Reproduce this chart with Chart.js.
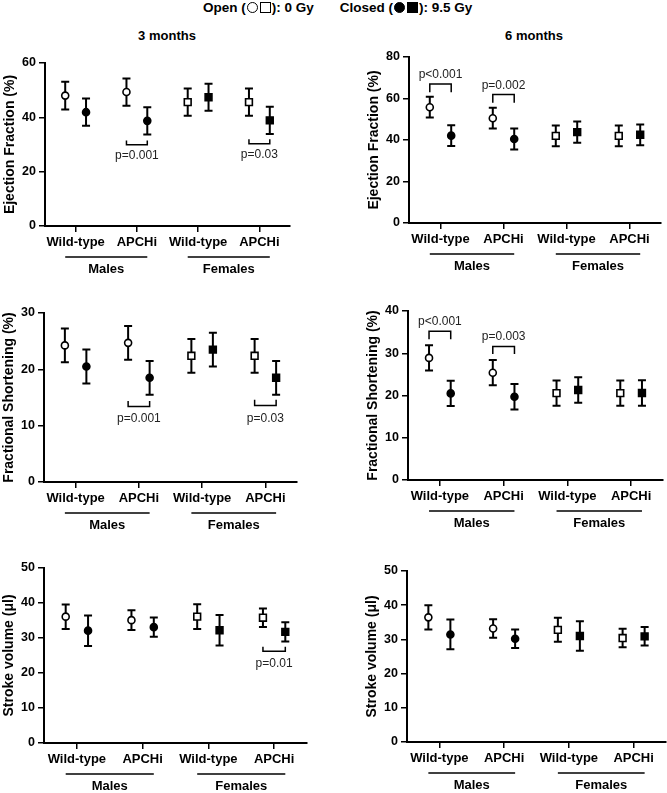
<!DOCTYPE html>
<html>
<head>
<meta charset="utf-8">
<script src="https://cdn.jsdelivr.net/npm/chart.js@4.4.0/dist/chart.umd.min.js"></script>
<style>
    html, body { margin: 0; padding: 0; background: #fff; overflow: hidden; }
    body { font-family: "Liberation Sans", Arial, sans-serif; color: #000; }
    #page { position: relative; width: 667px; height: 793px; }
    canvas { position: absolute; }
    .head { position: absolute; font-weight: bold; font-size: 13px; white-space: nowrap; transform: translate(-50%, -50%); }
    #legend { position: absolute; left: 203px; top: 0; font-weight: bold; font-size: 13.5px; white-space: nowrap; line-height: 15px; }
    .mk { display: inline-block; width: 9px; height: 9px; border: 1.6px solid #000; vertical-align: -1px; margin: 0 1px; }
    .mk.c { border-radius: 50%; }
    .mk.f { background: #000; }
</style>
</head>
<body>
<div id="page">
    <div id="legend">Open (<span class="mk c"></span><span class="mk"></span>): 0 Gy<span style="display:inline-block;width:26px"></span>Closed (<span class="mk c f"></span><span class="mk f"></span>): 9.5 Gy</div>
    <div class="head" style="left:167px;top:35px">3 months</div>
    <div class="head" style="left:534px;top:35px">6 months</div>
    <canvas id="ef3"></canvas>
    <canvas id="ef6"></canvas>
    <canvas id="fs3"></canvas>
    <canvas id="fs6"></canvas>
    <canvas id="sv3"></canvas>
    <canvas id="sv6"></canvas>
</div>
<script>
// categories
const groupLabels = ['Wild-type', 'APCHi', 'Wild-type', 'APCHi'];
const sexLabels = ['Males', 'Females'];
const pairOffset = 0.17; // open / closed sit either side of the tick

// Ejection fraction, 3 months
const ef3Open = [48.0, 49.3, 45.6, 45.6];
const ef3OpenSd = [5.1, 5.0, 5.0, 5.0];
const ef3Closed = [41.9, 38.7, 47.4, 38.9];
const ef3ClosedSd = [5.0, 5.0, 5.0, 5.0];
const ef3Brackets = [[2, 29.9, 31.5, 'p=0.001', 25.8], [4, 30.3, 31.9, 'p=0.03', 26.3]];

// Ejection fraction, 6 months
const ef6Open = [55.8, 50.5, 42.0, 42.0];
const ef6OpenSd = [5.0, 5.0, 5.0, 5.0];
const ef6Closed = [42.1, 40.5, 43.8, 42.5];
const ef6ClosedSd = [5.0, 5.1, 5.1, 5.0];
const ef6Brackets = [[1, 67.0, 63.0, 'p<0.001', 71.5], [2, 61.9, 58.0, 'p=0.002', 66.2]];

// Fractional shortening, 3 months
const fs3Open = [24.25, 24.7, 22.4, 22.4];
const fs3OpenSd = [3.0, 3.0, 3.0, 3.0];
const fs3Closed = [20.5, 18.5, 23.5, 18.5];
const fs3ClosedSd = [3.0, 3.0, 3.0, 3.0];
const fs3Brackets = [[2, 13.4, 14.4, 'p=0.001', 11.2], [4, 13.6, 14.6, 'p=0.03', 11.2]];

// Fractional shortening, 6 months
const fs6Open = [28.9, 25.4, 20.55, 20.55];
const fs6OpenSd = [3.0, 3.0, 3.0, 3.0];
const fs6Closed = [20.5, 19.7, 21.3, 20.6];
const fs6ClosedSd = [3.0, 3.0, 3.0, 3.0];
const fs6Brackets = [[1, 35.2, 33.3, 'p<0.001', 37.5], [2, 31.6, 29.8, 'p=0.003', 34.0]];

// Stroke volume, 3 months
const sv3Open = [36.1, 35.1, 36.1, 35.8];
const sv3OpenSd = [3.5, 2.8, 3.55, 2.65];
const sv3Closed = [32.1, 33.1, 32.2, 31.75];
const sv3ClosedSd = [4.35, 2.75, 4.35, 2.75];
const sv3Brackets = [[4, 26.2, 27.5, 'p=0.01', 22.7]];

// Stroke volume, 6 months
const sv6Open = [36.45, 33.2, 32.8, 30.4];
const sv6OpenSd = [3.55, 2.7, 3.5, 2.7];
const sv6Closed = [31.45, 30.2, 31.0, 30.9];
const sv6ClosedSd = [4.35, 2.7, 4.3, 2.7];
const sv6Brackets = [];

Chart.defaults.font.family = "'Liberation Sans', Arial, sans-serif";
Chart.defaults.color = '#000';

// error bars under the markers, brackets + group lines on top
const extrasPlugin = {
    id: 'extras',
    beforeDatasetsDraw(chart) {
        const ctx = chart.ctx;
        const yScale = chart.scales.y;
        chart.data.datasets.forEach((ds, di) => {
            const meta = chart.getDatasetMeta(di);
            meta.data.forEach((pt, i) => {
                const v = ds.data[i].y;
                const e = ds.errors[i];
                const top = yScale.getPixelForValue(v + e);
                const bot = yScale.getPixelForValue(v - e);
                ctx.save();
                ctx.strokeStyle = '#000';
                ctx.lineWidth = 2;
                ctx.beginPath();
                ctx.moveTo(pt.x, top); ctx.lineTo(pt.x, bot);
                ctx.moveTo(pt.x - 4, top); ctx.lineTo(pt.x + 4, top);
                ctx.moveTo(pt.x - 4, bot); ctx.lineTo(pt.x + 4, bot);
                ctx.stroke();
                ctx.restore();
            });
        });
    },
    afterDraw(chart, args, opts) {
        const ctx = chart.ctx;
        const xs = chart.scales.x;
        const ys = chart.scales.y;
        ctx.save();
        ctx.strokeStyle = '#000';
        ctx.fillStyle = '#222';
        ctx.textAlign = 'center';
        ctx.textBaseline = 'middle';
        ctx.font = "12px 'Liberation Sans', Arial, sans-serif";
        ctx.lineWidth = 1.5;
        for (const [g, lineY, endY, label, textY] of (opts.brackets || [])) {
            const x1 = xs.getPixelForValue(g - pairOffset);
            const x2 = xs.getPixelForValue(g + pairOffset);
            ctx.beginPath();
            ctx.moveTo(x1, ys.getPixelForValue(endY));
            ctx.lineTo(x1, ys.getPixelForValue(lineY));
            ctx.lineTo(x2, ys.getPixelForValue(lineY));
            ctx.lineTo(x2, ys.getPixelForValue(endY));
            ctx.stroke();
            ctx.fillText(label, xs.getPixelForValue(g), ys.getPixelForValue(textY));
        }

        // Males / Females underlines
        const base = chart.chartArea.bottom;
        ctx.fillStyle = '#000';
        ctx.font = "bold 13px 'Liberation Sans', Arial, sans-serif";
        sexLabels.forEach((name, k) => {
            const a = xs.getPixelForValue(2 * k + 1 - pairOffset);
            const b = xs.getPixelForValue(2 * k + 2 + pairOffset);
            ctx.beginPath();
            ctx.moveTo(a, base + 31);
            ctx.lineTo(b, base + 31);
            ctx.stroke();
            ctx.fillText(name, (a + b) / 2, base + 43);
        });
        ctx.restore();
    }
};

function makePanel(id, area, yTitle, yMax, yStep, open, openSd, closed, closedSd, brackets) {
    const canvas = document.getElementById(id);
    const left = area.l - 45;
    const top = area.t - 20;
    const w = area.r - left + 20;
    const h = area.b - area.t + 75;
    canvas.style.left = left + 'px';
    canvas.style.top = top + 'px';
    canvas.width = w;
    canvas.height = h;
    canvas.style.width = w + 'px';
    canvas.style.height = h + 'px';

    const shape = c => c.dataIndex < 2 ? 'circle' : 'rect';
    const size = c => c.dataIndex < 2 ? 3.5 : 4.8;

    return new Chart(canvas.getContext('2d'), {
        type: 'scatter',
        data: {
            datasets: [
                {
                    label: 'Open (0 Gy)',
                    data: open.map((v, i) => ({x: i + 1 - pairOffset, y: v})),
                    errors: openSd,
                    pointStyle: shape,
                    pointRadius: size,
                    backgroundColor: '#fff',
                    borderColor: '#000',
                    borderWidth: 1.6
                },
                {
                    label: 'Closed (9.5 Gy)',
                    data: closed.map((v, i) => ({x: i + 1 + pairOffset, y: v})),
                    errors: closedSd,
                    pointStyle: shape,
                    pointRadius: size,
                    backgroundColor: '#000',
                    borderColor: '#000',
                    borderWidth: 1.6
                }
            ]
        },
        options: {
            responsive: false,
            animation: false,
            events: [],
            clip: false,
            layout: { padding: { left: 0, top: 20, right: 20, bottom: 25 } },
            plugins: {
                legend: { display: false },
                tooltip: { enabled: false },
                extras: { brackets: brackets }
            },
            scales: {
                x: {
                    type: 'linear',
                    min: 0.5,
                    max: 4.5,
                    afterBuildTicks: axis => { axis.ticks = groupLabels.map((_, i) => ({value: i + 1})); },
                    afterFit: axis => { axis.height = 30; },
                    ticks: {
                        callback: v => groupLabels[v - 1],
                        font: { size: 13, weight: 'bold' },
                        padding: 3,
                        maxRotation: 0,
                        autoSkip: false
                    },
                    grid: { drawOnChartArea: false, tickLength: 6, color: '#000', lineWidth: 1.5 },
                    border: { color: '#000', width: 2 }
                },
                y: {
                    min: 0,
                    max: yMax,
                    afterFit: axis => { axis.width = 45; },
                    ticks: { stepSize: yStep, font: { size: 12.5, weight: 'bold' }, padding: 3 },
                    grid: { drawOnChartArea: false, tickLength: 6, color: '#000', lineWidth: 1.5 },
                    border: { color: '#000', width: 2 },
                    title: {
                        display: true,
                        text: yTitle,
                        font: { size: 14, weight: 'bold' },
                        padding: { top: 2, bottom: 0 }
                    }
                }
            }
        },
        plugins: [extrasPlugin]
    });
}

makePanel('ef3', {l: 45, r: 290, t: 63, b: 226}, 'Ejection Fraction (%)', 60, 20,
    ef3Open, ef3OpenSd, ef3Closed, ef3ClosedSd, ef3Brackets);
makePanel('ef6', {l: 409, r: 661, t: 57, b: 223}, 'Ejection Fraction (%)', 80, 20,
    ef6Open, ef6OpenSd, ef6Closed, ef6ClosedSd, ef6Brackets);
makePanel('fs3', {l: 44, r: 297, t: 313, b: 482}, 'Fractional Shortening (%)', 30, 10,
    fs3Open, fs3OpenSd, fs3Closed, fs3ClosedSd, fs3Brackets);
makePanel('fs6', {l: 408, r: 663, t: 311, b: 480}, 'Fractional Shortening (%)', 40, 10,
    fs6Open, fs6OpenSd, fs6Closed, fs6ClosedSd, fs6Brackets);
makePanel('sv3', {l: 44, r: 307, t: 568, b: 743}, 'Stroke volume (\u03bcl)', 50, 10,
    sv3Open, sv3OpenSd, sv3Closed, sv3ClosedSd, sv3Brackets);
makePanel('sv6', {l: 407, r: 666, t: 571, b: 742}, 'Stroke volume (\u03bcl)', 50, 10,
    sv6Open, sv6OpenSd, sv6Closed, sv6ClosedSd, sv6Brackets);
</script>
</body>
</html>
